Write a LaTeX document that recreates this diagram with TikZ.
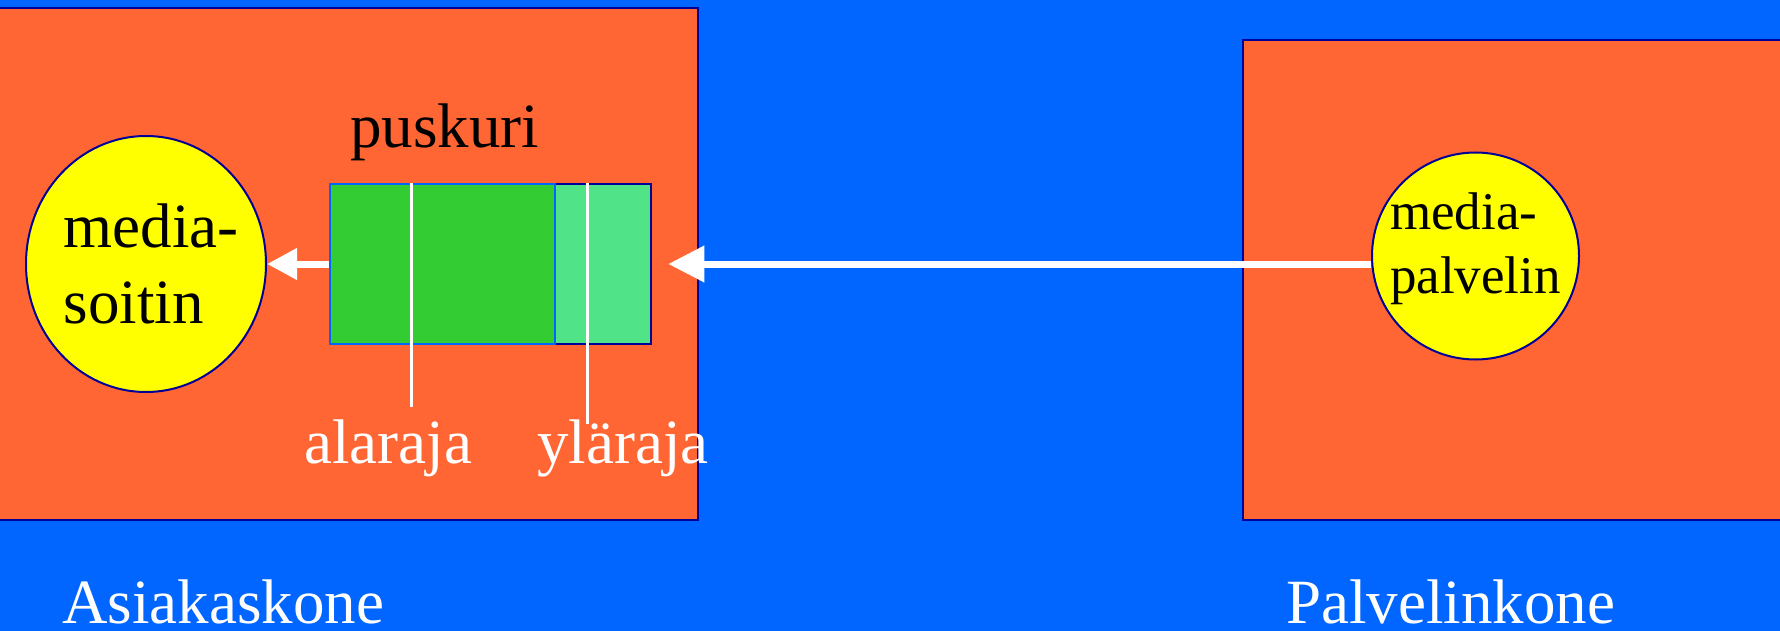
\documentclass[tikz,border=0pt]{standalone}
\usepackage{fontspec}
\setmainfont{Liberation Serif}
\usetikzlibrary{
	arrows.meta,
	positioning,
	shapes.geometric
}

\definecolor{tausta}{HTML}{0066FF}
\definecolor{oranssi}{HTML}{FF6633}
\definecolor{laivasto}{HTML}{000099}
\definecolor{keltainen}{HTML}{FFFF00}
\definecolor{taysivihrea}{HTML}{33CC33}
\definecolor{vapaavihrea}{HTML}{50E388}

\begin{document}
\begin{tikzpicture}[
	x=1pt, y=-1pt,
	kone/.style={
		rectangle,
		draw=laivasto,
		line width=2.5pt,
		fill=oranssi,
		inner sep=0pt
	},
	sovellus/.style={
		ellipse,
		draw=laivasto,
		line width=2pt,
		fill=keltainen,
		inner sep=0pt
	},
	lohko/.style={rectangle, line width=2.5pt, inner sep=0pt, minimum height=160pt},
	iso/.style={font=\fontsize{63}{76}\selectfont, inner sep=0pt},
	pieni/.style={font=\fontsize{53}{64}\selectfont, inner sep=0pt},
	nuoli/.style={-{Triangle[length=36pt, width=35pt]}, line width=7pt, draw=white},
	raja/.style={line width=3pt, draw=white}
]

\fill[tausta] (0,0) rectangle (1780,631);
\useasboundingbox (0,0) rectangle (1780,631);

% Koneet
\node[kone, minimum width=708pt, minimum height=512pt] (asiakas) at (344,264) {};
\node[kone, minimum width=547pt, minimum height=480pt] (palvelin) at (1516.5,280) {};

% Ohjelmat
\node[sovellus, minimum width=240pt, minimum height=256pt] (soitin) at (146,264) {};
\node[iso, align=left] at ([xshift=5pt]soitin) {media-\\soitin};
\node[sovellus, minimum width=207pt, minimum height=207pt] (mpalvelin) at (1475.5,256) {};
\node[pieni, align=left] at ([yshift=7pt]mpalvelin) {media-\\palvelin};

% Puskuri
\node[lohko, fill=vapaavihrea, draw=laivasto, minimum width=96pt] (vapaa) at (603,264) {};
\node[lohko, fill=taysivihrea, draw=tausta, minimum width=225pt] (taysi) at (442.5,264) {};
\node[iso, anchor=base] (puskuri) at (444.5,148) {puskuri};

\coordinate (ala) at (411,407);
\coordinate (yla) at (587,424);
\draw[raja] (ala |- taysi.north) -- (ala);
\draw[raja] (yla |- vapaa.north) -- (yla);
\node[iso, text=white, anchor=base] (alaraja) at (388,463) {alaraja};
\node[iso, text=white, anchor=base] (ylaraja) at (623,463) {yläraja};

% Virta
\draw[nuoli, shorten >=16pt] (mpalvelin.west |- vapaa.east) -- (vapaa.east);
\draw[-{Triangle[length=30pt, width=30pt]}, line width=7pt, draw=white] (taysi.west) -- (soitin.east);

% Nimet
\node[iso, text=white, anchor=base west] (asiakasnimi) at (62,623) {Asiakaskone};
\node[iso, text=white, anchor=base west] (palvelinnimi) at (1286,623) {Palvelinkone};
\end{tikzpicture}
\end{document}
